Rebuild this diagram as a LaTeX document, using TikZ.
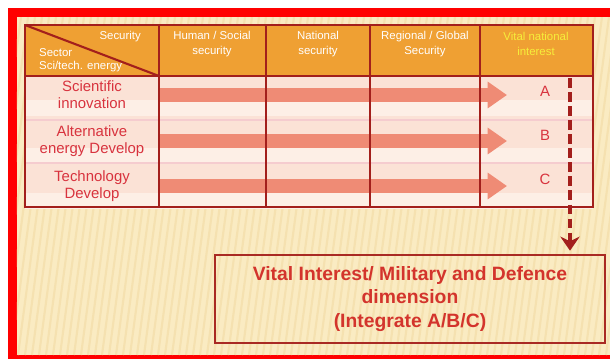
\documentclass[tikz,border=0pt]{standalone}
\usepackage{fontspec}
\setmainfont{Liberation Sans}
\usepackage{xcolor}
\usetikzlibrary{arrows.meta}

\definecolor{framered}{HTML}{FF0000}
\definecolor{paper}{HTML}{FAEBC2}
\definecolor{paperline}{HTML}{F5E1B0}
\definecolor{headorange}{HTML}{EFA033}
\definecolor{cellpink}{HTML}{FBE2D6}
\definecolor{celllight}{HTML}{FDEFE6}
\definecolor{gridred}{HTML}{A31F1C}
\definecolor{barsalmon}{HTML}{EF8B75}
\definecolor{labelred}{HTML}{D8333E}
\definecolor{headyellow}{HTML}{F6EE3A}
\definecolor{vitalred}{HTML}{D3342C}

\tikzset{
    grid/.style={gridred, line width=1.2pt},
    rowlabel/.style={text=labelred, font=\fontsize{8.5}{9.5}\selectfont, align=center,
        inner sep=0pt, minimum width=2.68cm},
    headlabel/.style={text=white, font=\fontsize{6.5}{8.5}\selectfont, align=center},
    letter/.style={text=labelred, font=\fontsize{8.5}{10}\selectfont},
    flow/.style={barsalmon, line width=7.9pt, -{Triangle[length=11pt,width=14.5pt]}},
    drop/.style={gridred, line width=2.2pt, dash pattern=on 5.5pt off 2.5pt,
        -{Stealth[length=8pt,width=11pt]}, shorten >=2pt},
    vitalbox/.style={draw=vitalred!80!black, line width=0.9pt, text=vitalred, align=center,
        font=\fontsize{11}{13.6}\selectfont\bfseries, minimum width=7.8cm, minimum height=1.76cm}
}

\begin{document}
\begin{tikzpicture}[x=0.02cm, y=-0.02cm]
        \useasboundingbox (0,0) rectangle (610,359);
        \fill[white] (0,0) rectangle (610,359);
        \fill[framered] (8,8) rectangle (610,359);
        \fill[paper] (17,17) rectangle (610,355);

        % paper texture
        \begin{scope}
            \clip (17,17) rectangle (610,355);
            \foreach \s in {0,7,...,700} {
                \draw[paperline, line width=1.2pt] (\s,17) -- (\s-45,355);
            }
        \end{scope}

        % table body and header
        \fill[cellpink] (25,76) rectangle (593,207);
        \foreach \y in {100,148,193} {
            \fill[celllight] (25,\y) rectangle (593,\y+16);
        }
        \fill[headorange] (25,25) rectangle (593,76);
        \foreach \y in {120,163} {
            \draw[labelred!25, line width=0.6pt] (25,\y) -- (593,\y);
        }

        \node[rowlabel] (sci) at (92,95) {Scientific\\innovation};
        \node[rowlabel] (alt) at (92,141) {Alternative\\energy Develop};
        \node[rowlabel] (tech) at (92,186) {Technology\\Develop};

        \coordinate (tipA) at (507,95);
        \coordinate (tipB) at (507,141);
        \coordinate (tipC) at (507,186);
        \draw[flow] (sci.east) -- (tipA);
        \draw[flow] (alt.east) -- (tipB);
        \draw[flow] (tech.east) -- (tipC);

        \node[letter] (letA) at (545,91) {A};
        \node[letter] (letB) at (545,135) {B};
        \node[letter] (letC) at (545,179) {C};

        \draw[grid] (25,25) rectangle (593,207);
        \draw[grid] (25,76) -- (593,76);
        \draw[grid] (25,25) -- (159,76);
        \foreach \x in {159,266,370,480} {
            \draw[grid] (\x,25) -- (\x,207);
        }

        \node[headlabel, anchor=east] (corner) at (147,37) {Security};
        \node[headlabel, anchor=west] (sector) at (33,53) {Sector};
        \node[headlabel, anchor=west] (scitech) at (33,67) {Sci/tech. energy};
        \node[headlabel] (human) at (212,44) {Human / Social\\security};
        \node[headlabel] (national) at (318,44) {National\\security};
        \node[headlabel] (regional) at (425,44) {Regional / Global\\Security};
        \node[headlabel, text=headyellow] (vitalhead) at (536,44) {Vital national\\interest};

        \node[vitalbox] (vital) at (410,299) {Vital Interest/ Military and Defence\\dimension\\(Integrate A/B/C)};

        \coordinate (droptop) at (570,78);
        \draw[drop] (droptop) -- (droptop |- vital.north);
    \end{tikzpicture}
\end{document}
